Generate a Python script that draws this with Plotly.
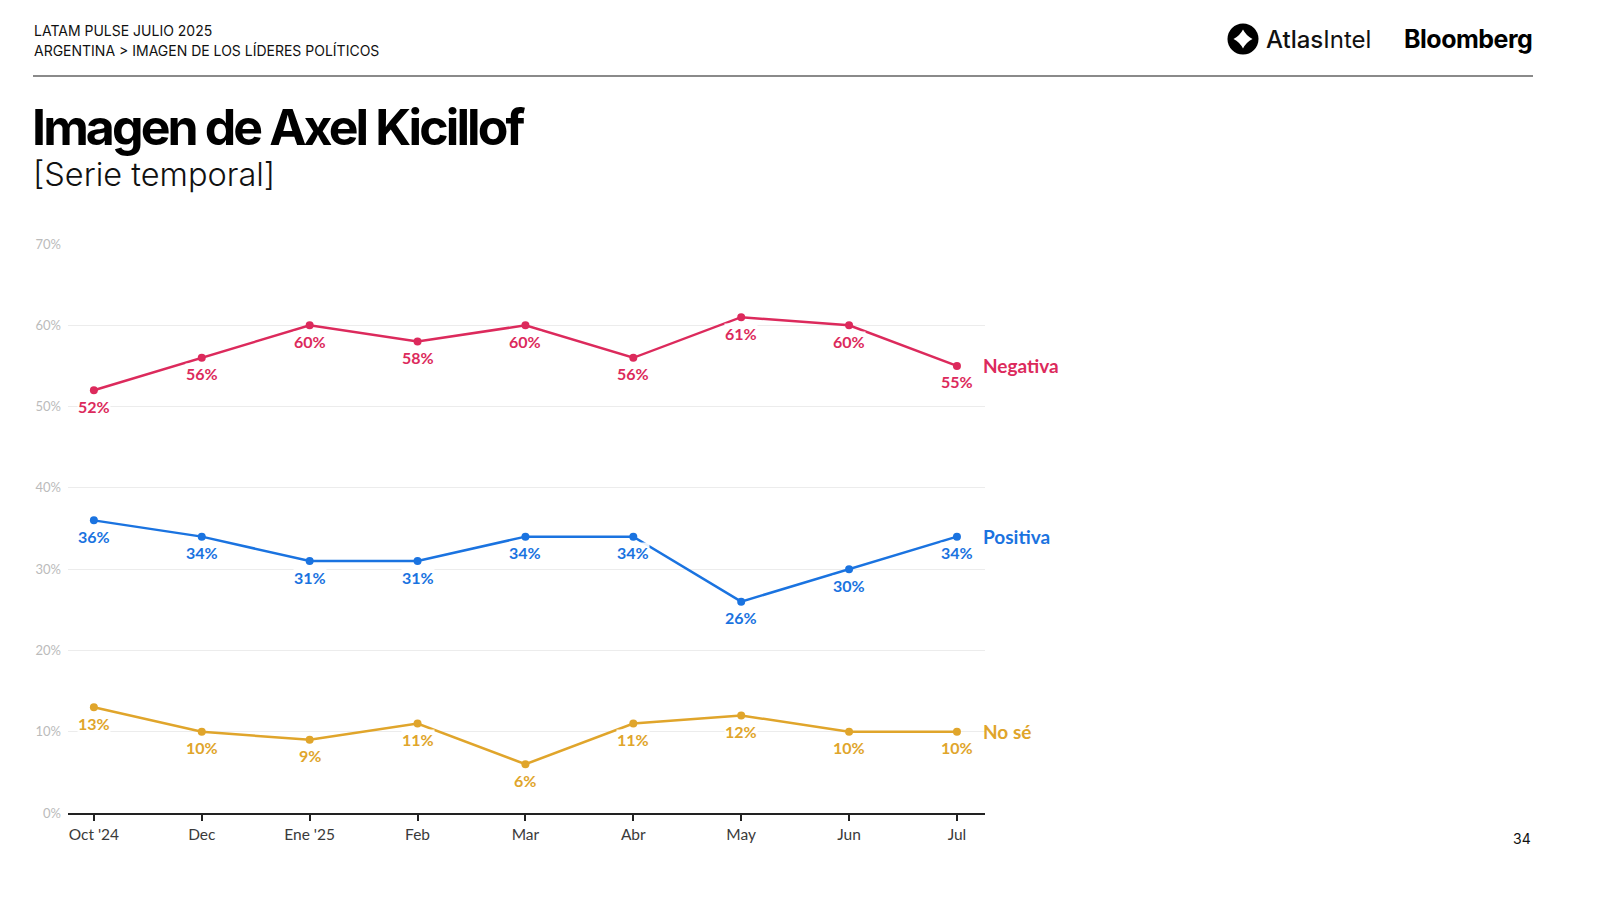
import plotly.graph_objects as go

months = ["Oct '24", "Dec", "Ene '25", "Feb", "Mar", "Abr", "May", "Jun", "Jul"]
negativa = [52, 56, 60, 58, 60, 56, 61, 60, 55]
positiva = [36, 34, 31, 31, 34, 34, 26, 30, 34]
nose = [13, 10, 9, 11, 6, 11, 12, 10, 10]
y_ticks = [0, 10, 20, 30, 40, 50, 60, 70]

series = [
    ("Negativa", negativa, "#dc2a5c"),
    ("Positiva", positiva, "#1a73e0"),
    ("No sé", nose, "#e0a52b"),
]

W, H = 1600, 900
L, R, T, B = 68, 985, 244, 813


def px(x):
    return (x - L) / (R - L)


def py(y):
    return (B - y) / (B - T)


fig = go.Figure()
xs = list(range(len(months)))
annotations = []
for name, vals, color in series:
    fig.add_trace(go.Scatter(
        x=xs, y=vals, mode="lines+markers", name=name,
        line=dict(color=color, width=2.5),
        marker=dict(color=color, size=8),
        hoverinfo="skip", showlegend=False,
    ))
    for i, v in enumerate(vals):
        annotations.append(dict(
            x=i, y=v, xref="x", yref="y", text=f"<b>{v}%</b>",
            showarrow=False, yshift=-16, bgcolor="rgba(255,255,255,0.9)",
            borderpad=0,
            font=dict(family="Lato", size=16, color=color),
        ))
    annotations.append(dict(
        x=len(vals) - 1, y=vals[-1], xref="x", yref="y", text=f"<b>{name}</b>",
        showarrow=False, xanchor="left", xshift=24,
        font=dict(family="Lato", size=19, color=color),
    ))

# Header texts
hdr_font = dict(family="Inter", size=14, color="#111")
annotations += [
    dict(x=px(32), y=py(31), xref="paper", yref="paper", xanchor="left", yanchor="middle",
         text="LATAM PULSE JULIO 2025", showarrow=False, font=hdr_font),
    dict(x=px(32), y=py(50), xref="paper", yref="paper", xanchor="left", yanchor="middle",
         text="ARGENTINA &gt; IMAGEN DE LOS LÍDERES POLÍTICOS", showarrow=False, font=hdr_font),
    dict(x=px(30), y=py(127), xref="paper", yref="paper", xanchor="left", yanchor="middle",
         text="<span style='letter-spacing:-2.9px'><b>Imagen de Axel Kicillof</b></span>",
         showarrow=False, font=dict(family="Inter", size=50, color="#000", weight=800)),
    dict(x=px(31), y=py(174), xref="paper", yref="paper", xanchor="left", yanchor="middle",
         text="[Serie temporal]", showarrow=False,
         font=dict(family="Inter", size=32.5, color="#111", weight=300)),
    dict(x=px(1264), y=py(39), xref="paper", yref="paper", xanchor="left", yanchor="middle",
         text="<span style='font-weight:500'>Atlas</span>Intel", showarrow=False,
         font=dict(family="Inter", size=24, color="#111", weight=400)),
    dict(x=px(1534), y=py(39), xref="paper", yref="paper", xanchor="right", yanchor="middle",
         text="<span style='letter-spacing:-0.5px'>Bloomberg</span>", showarrow=False,
         font=dict(family="Inter", size=25, color="#000", weight=700)),
    dict(x=px(1533), y=py(838), xref="paper", yref="paper", xanchor="right", yanchor="middle",
         text="34", showarrow=False, font=dict(family="Inter", size=14, color="#111")),
]

# Atlas icon: black disc with white four-point star
cx, cy, r = 1243, 39, 15.5
s = 9.5
c = 3.2
star = (f"M {px(cx)} {py(cy - s)} "
        f"Q {px(cx + c)} {py(cy - c)} {px(cx + s)} {py(cy)} "
        f"Q {px(cx + c)} {py(cy + c)} {px(cx)} {py(cy + s)} "
        f"Q {px(cx - c)} {py(cy + c)} {px(cx - s)} {py(cy)} "
        f"Q {px(cx - c)} {py(cy - c)} {px(cx)} {py(cy - s)} Z")
shapes = [
    dict(type="line", xref="paper", yref="paper", x0=px(33), x1=px(1533), y0=py(76), y1=py(76),
         line=dict(color="#8a8a8a", width=2)),
    dict(type="circle", xref="paper", yref="paper", x0=px(cx - r), x1=px(cx + r),
         y0=py(cy + r), y1=py(cy - r), fillcolor="#000", line=dict(width=0)),
    dict(type="path", xref="paper", yref="paper", path=star, fillcolor="#fff", line=dict(width=0)),
]

fig.update_layout(
    width=W, height=H,
    margin=dict(l=L, r=W - R, t=T, b=H - B, pad=0),
    paper_bgcolor="#fff", plot_bgcolor="#fff",
    font=dict(family="Lato"),
    annotations=annotations, shapes=shapes,
    xaxis=dict(
        range=[-0.24, 8.26], tickmode="array", tickvals=xs, ticktext=months,
        showgrid=False, zeroline=False, showline=True, linecolor="#222", linewidth=2,
        ticks="outside", ticklen=6, tickcolor="#222", tickwidth=1.5,
        tickfont=dict(family="Lato", size=15.5, color="#3a3a3a"), fixedrange=True,
    ),
    yaxis=dict(
        range=[0, 70], tickmode="array", tickvals=y_ticks,
        ticktext=[f"{v}%" for v in y_ticks],
        showgrid=True, gridcolor="#ececec", gridwidth=1, zeroline=False,
        showline=False, ticks="", ticklabelstandoff=6,
        tickfont=dict(family="Lato", size=13, color="#bbbbbb"), fixedrange=True,
    ),
)

fig.write_html(
    "out.html",
    config={"displayModeBar": False},
    post_script="document.body.style.margin='0';document.body.style.overflow='hidden';",
)
